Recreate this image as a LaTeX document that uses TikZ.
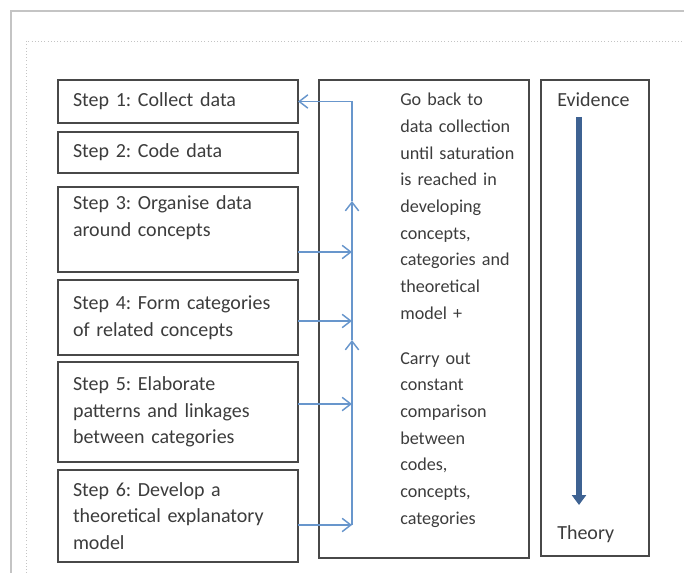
\documentclass[tikz,border=0pt]{standalone}
\usepackage{fontspec}
\setmainfont{Carlito}
\usepackage{tikz}
\usetikzlibrary{arrows.meta}
\definecolor{boxgray}{RGB}{72,72,72}
\definecolor{txtgray}{RGB}{60,60,60}
\definecolor{loopblue}{RGB}{104,150,204}
\definecolor{trendblue}{RGB}{62,98,146}
\definecolor{framegray}{RGB}{196,196,196}
\frenchspacing

\begin{document}
\begin{tikzpicture}[x=0.75pt,y=0.75pt,yscale=-1,xscale=1,
  font=\fontsize{15}{20}\selectfont,
  stepbox/.style={draw=boxgray,line width=1.3pt,anchor=north west,outer sep=0pt,inner xsep=11.25pt,text width=157.5pt,align=left,text=txtgray},
  sidebox/.style={draw=boxgray,line width=1.3pt,anchor=north west,outer sep=0pt,inner sep=0pt},
  plaintext/.style={anchor=base west,inner sep=0pt,text=txtgray,align=left},
  loop/.style={draw=loopblue,line width=1.1pt,-{Straight Barb[length=6.5pt,width=10pt]}},
  trend/.style={draw=trendblue,line width=5pt,-{Triangle[length=7.5pt,width=10.5pt]}}]
\useasboundingbox (0,0) rectangle (684,573);

%Shape: Frame [id:frame1]
\draw [color=framegray, line width=1.1pt] (11,573) -- (11,11) -- (684,11) ;
\draw [color=framegray, dotted] (26,573) -- (26,41) -- (684,41) ;

% Step boxes
\node [stepbox, minimum height=32.25pt] (s1) at (58,80) {Step 1: Collect data};
\node [stepbox, minimum height=30.75pt] (s2) at (58,132) {Step 2: Code data};
\node [stepbox, minimum height=63.75pt] (s3) at (58,187) {Step 3: Organise data\\around concepts\\~};
\node [stepbox, minimum height=56.25pt] (s4) at (58,280) {Step 4: Form categories\\of related concepts};
\node [stepbox, minimum height=75pt] (s5) at (58,362) {Step 5: Elaborate\\patterns and linkages\\between categories};
\node [stepbox, minimum height=69pt] (s6) at (58,470) {Step 6: Develop a\\theoretical explanatory\\model};

%Shape: Rectangle [id:midbox]
\node [sidebox, minimum width=157.5pt, minimum height=358.5pt] (midbox) at (319,80) {};
% Text Node
\node [plaintext, text width=100pt, font=\fontsize{13.6}{20}\selectfont] (loopnote) at (400,106) {Go back to\\data collection\\until saturation\\is reached in\\developing\\concepts,\\categories and\\theoretical\\model +\\[13.75pt]Carry out\\constant\\comparison\\between\\codes,\\concepts,\\categories};

%Shape: Rectangle [id:evbox]
\node [sidebox, minimum width=81pt, minimum height=357pt] (evbox) at (541,80) {};
% Text Node
\node [plaintext] (evidence) at (557,107) {Evidence};
% Text Node
\node [plaintext] (theory) at (557,539) {Theory};

% feedback loop
\coordinate (top) at (s1.east -| 352,0);
\coordinate (u1) at (352,201);
\coordinate (u2) at (352,340);
\coordinate (j3) at (352,252);
\coordinate (j4) at (352,321);
\coordinate (j5) at (352,404);
\coordinate (j6) at (352,525);
\draw [loop] (s3.east |- j3) -- (j3);
\draw [loop] (s4.east |- j4) -- (j4);
\draw [loop] (s5.east |- j5) -- (j5);
\draw [loop] (s6.east |- j6) -- (j6);
\draw [loop] (j6) -- (u2);
\draw [loop] (u2) -- (u1);
\draw [loop] (u1) -- (top) -- (s1.east);

% evidence to theory
\coordinate (evtop) at (579,117);
\coordinate (evend) at (579,505);
\draw [trend] (evtop) -- (evend);
\end{tikzpicture}
\end{document}
